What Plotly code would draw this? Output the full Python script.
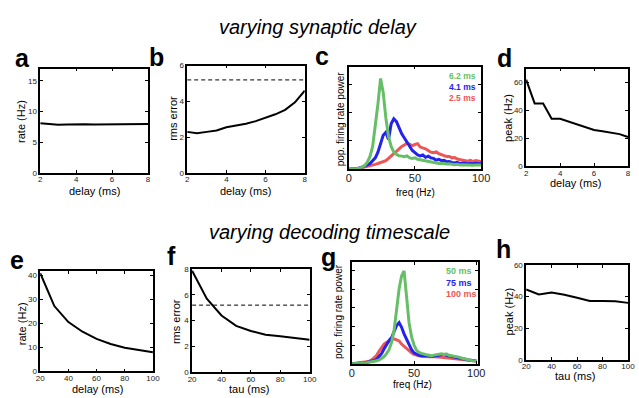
import plotly.graph_objects as go

W, H = 639, 398
FONT = "Liberation Sans, Arial, Helvetica, sans-serif"

# ---------------- data ----------------
delay = [2, 2.5, 3, 3.5, 4, 4.5, 5, 5.5, 6, 6.5, 7, 7.5, 8]
rate_a = [8.1, 7.95, 7.85, 7.9, 7.95, 7.95, 7.9, 7.9, 7.95, 7.95, 7.95, 8.0, 8.0]
rms_b = [2.3, 2.22, 2.3, 2.38, 2.56, 2.65, 2.75, 2.9, 3.07, 3.28, 3.53, 3.95, 4.6]
peak_d = [62, 45, 45, 34, 34, 32, 30, 28, 26, 25, 24, 23, 21]
rms_chance = 5.2

tau = [20, 30, 40, 50, 60, 70, 80, 90, 100]
rate_e = [41, 27.3, 20.6, 16.6, 13.6, 11.5, 9.9, 8.8, 8.0]
rms_f = [7.85, 5.7, 4.4, 3.6, 3.2, 2.92, 2.8, 2.65, 2.52]
peak_h = [44.5, 41.3, 42.5, 41.2, 39.2, 37.2, 37.2, 37.0, 36.0]

freq = list(range(0, 101, 2))
c_labels = ["6.2 ms", "4.1 ms", "2.5 ms"]
c_green = [0.0, 0.0, 0.01, 0.02, 0.03, 0.07, 0.13, 0.25, 0.45, 0.8, 1.5, 2.3, 3.2,
           2.7, 1.8, 1.15, 0.8, 0.6, 0.52, 0.47, 0.46, 0.44, 0.47, 0.4, 0.38, 0.4,
           0.35, 0.33, 0.3, 0.29, 0.26, 0.25, 0.23, 0.22, 0.2, 0.21, 0.19, 0.18, 0.19,
           0.17, 0.16, 0.17, 0.15, 0.16, 0.15, 0.14, 0.15, 0.14, 0.15, 0.14, 0.15]
c_blue = [0.0, 0.0, 0.01, 0.02, 0.04, 0.07, 0.1, 0.15, 0.2, 0.3, 0.4, 0.6, 0.9,
          1.2, 1.3, 1.05, 1.6, 1.78, 1.68, 1.45, 1.25, 1.1, 0.95, 0.82, 0.66, 0.58,
          0.5, 0.47, 0.5, 0.42, 0.46, 0.4, 0.38, 0.32, 0.35, 0.3, 0.31, 0.26, 0.27,
          0.24, 0.22, 0.24, 0.2, 0.22, 0.2, 0.19, 0.2, 0.19, 0.21, 0.19, 0.2]
c_red = [0.0, 0.0, 0.01, 0.02, 0.03, 0.05, 0.07, 0.1, 0.12, 0.14, 0.17, 0.2, 0.23,
         0.26, 0.3, 0.38, 0.45, 0.55, 0.63, 0.72, 0.8, 0.85, 0.92, 0.88, 0.83, 0.87,
         0.9, 0.78, 0.76, 0.72, 0.66, 0.6, 0.58, 0.61, 0.55, 0.5, 0.48, 0.45, 0.45,
         0.4, 0.41, 0.36, 0.33, 0.32, 0.3, 0.28, 0.31, 0.27, 0.3, 0.28, 0.26]

g_labels = ["50 ms", "75 ms", "100 ms"]
g_green = [0.0, 0.0, 0.01, 0.02, 0.03, 0.04, 0.05, 0.07, 0.09, 0.12, 0.16, 0.2, 0.28,
           0.38, 0.55, 0.75, 1.15, 1.8, 2.9, 4.0, 4.7, 4.98, 3.6, 2.2, 1.45, 1.0,
           0.72, 0.6, 0.55, 0.5, 0.48, 0.45, 0.42, 0.46, 0.47, 0.5, 0.53, 0.48, 0.52,
           0.45, 0.43, 0.4, 0.37, 0.35, 0.3, 0.26, 0.22, 0.2, 0.17, 0.16, 0.15]
g_blue = [0.0, 0.0, 0.01, 0.02, 0.03, 0.04, 0.06, 0.09, 0.12, 0.17, 0.24, 0.38, 0.55,
          0.8, 1.05, 1.25, 1.4, 1.7, 2.05, 2.2, 1.95, 1.6, 1.3, 1.0, 0.75, 0.58,
          0.5, 0.45, 0.42, 0.43, 0.4, 0.42, 0.39, 0.42, 0.43, 0.45, 0.47, 0.5, 0.45,
          0.42, 0.38, 0.34, 0.3, 0.28, 0.26, 0.24, 0.22, 0.2, 0.18, 0.16, 0.15]
g_red = [0.0, 0.01, 0.02, 0.03, 0.05, 0.07, 0.1, 0.14, 0.2, 0.32, 0.45, 0.68, 0.88,
         1.05, 1.15, 1.22, 1.3, 1.33, 1.28, 1.22, 1.05, 0.93, 0.8, 0.68, 0.58, 0.5,
         0.45, 0.42, 0.4, 0.38, 0.38, 0.37, 0.38, 0.36, 0.35, 0.35, 0.34, 0.33, 0.32,
         0.3, 0.3, 0.28, 0.27, 0.25, 0.24, 0.22, 0.2, 0.18, 0.17, 0.16, 0.15]

GREEN = "rgb(102,190,102)"
BLUE = "rgb(35,35,240)"
RED = "rgb(238,85,85)"

# ---------------- layout helpers ----------------
def dom(x0, x1, y0, y1):
    return [x0 / W, x1 / W], [1 - y1 / H, 1 - y0 / H]

panels = {
    1: dict(box=(37, 147, 66, 173), xr=[2, 8], yr=[0, 17], xt=[2, 4, 6, 8], yt=[0, 5, 10, 15]),
    2: dict(box=(187, 307, 63, 173), xr=[2, 8], yr=[0, 6], xt=[2, 4, 6, 8], yt=[0, 2, 4, 6]),
    3: dict(box=(352, 487, 64, 169), xr=[0, 100], yr=[0, 3.62], xt=[0, 50, 100], yt=[1, 2, 3], big=True),
    4: dict(box=(533, 637, 66, 166), xr=[2, 8], yr=[0, 70], xt=[2, 4, 6, 8], yt=[0, 20, 40, 60]),
    5: dict(box=(37, 152, 273, 376), xr=[20, 100], yr=[0, 42], xt=[20, 40, 60, 80, 100], yt=[0, 10, 20, 30, 40]),
    6: dict(box=(192, 312, 271, 377), xr=[20, 100], yr=[0, 8], xt=[20, 40, 60, 80, 100], yt=[0, 2, 4, 6, 8]),
    7: dict(box=(355, 484, 264, 368), xr=[0, 101.5], yr=[0, 5.45], xt=[0, 50, 100], yt=[1, 2, 3, 4, 5], big=True),
    8: dict(box=(533, 637, 267, 364), xr=[20, 100], yr=[0, 60], xt=[20, 40, 60, 80, 100], yt=[0, 20, 40, 60]),
}

fig = go.Figure()

def ax_name(i, k):
    return f"{k}axis" if i == 1 else f"{k}axis{i}"

def ref(i, k):
    return k if i == 1 else f"{k}{i}"

layout_axes = {}
for i, p in panels.items():
    xd, yd = dom(*p["box"])
    big = p.get("big", False)
    common = dict(showline=True, linecolor="black", linewidth=1.5, mirror="ticks",
                  ticks="inside", ticklen=3, tickwidth=1, tickcolor="black",
                  showgrid=False, zeroline=False, fixedrange=True)
    layout_axes[ax_name(i, "x")] = dict(
        domain=xd, range=p["xr"], anchor=ref(i, "y"), tickvals=p["xt"],
        ticklabelstandoff=-2,
        tickfont=dict(size=11 if big else 8, color="#222", family=FONT), **common)
    layout_axes[ax_name(i, "y")] = dict(
        domain=yd, range=p["yr"], anchor=ref(i, "x"), tickvals=p["yt"],
        showticklabels=not big,
        tickfont=dict(size=8, color="#222", family=FONT), **common)

def line(i, x, y, color="black", width=2, dash=None):
    fig.add_trace(go.Scatter(x=x, y=y, mode="lines", xaxis=ref(i, "x"), yaxis=ref(i, "y"),
                             line=dict(color=color, width=width, dash=dash), showlegend=False,
                             hoverinfo="skip"))

line(1, delay, rate_a)
line(2, [delay[0], delay[-1]], [rms_chance, rms_chance], width=1, dash="4px,3px")
line(2, delay, rms_b)
line(3, freq, c_red, RED, 3)
line(3, freq, c_blue, BLUE, 3)
line(3, freq, c_green, GREEN, 3)
line(4, delay, peak_d)
line(5, tau, rate_e)
line(6, [tau[0], tau[-1]], [rms_chance, rms_chance], width=1, dash="4px,3px")
line(6, tau, rms_f)
line(7, freq, g_red, RED, 3)
line(7, freq, g_blue, BLUE, 3)
line(7, freq, g_green, GREEN, 3)
line(8, tau, peak_h)

ann = []

def text(x, y, s, size=11, color="black", bold=False, italic=False, angle=0, xanchor="center", yanchor="middle"):
    if bold:
        s = f"<b>{s}</b>"
    if italic:
        s = f"<i>{s}</i>"
    ann.append(dict(x=x / W, y=1 - y / H, xref="paper", yref="paper", text=s, showarrow=False,
                    xanchor=xanchor, yanchor=yanchor, textangle=angle, align="left",
                    borderpad=0,
                    font=dict(family=FONT, size=size, color=color)))

# titles
text(321, 24, "varying synaptic delay", size=20, italic=True)
text(332, 233, "varying decoding timescale", size=20, italic=True)

# panel letters
for lt, (x, y) in {"a": (19, 55), "b": (156, 54), "c": (325, 53), "d": (511, 55),
                   "e": (13, 262), "f": (171, 258), "g": (331, 259), "h": (510, 251)}.items():
    text(x, y, lt, size=25, bold=True)

# axis titles
text(18, 120, "rate (Hz)", angle=-90)
text(92, 191, "delay (ms)")
text(173, 117, "rms error", angle=-90)
text(247, 191, "delay (ms)")
text(343, 118, "pop. firing rate power", size=10, angle=-90)
text(420, 193, "freq (Hz)", size=10)
text(515, 117, "peak (Hz)", angle=-90)
text(583, 183, "delay (ms)")

text(18, 327, "rate (Hz)", angle=-90)
text(95, 393.5, "delay (ms)")
text(175, 325, "rms error", angle=-90)
text(250, 394, "tau (ms)")
text(342, 315, "pop. firing rate power", size=10, angle=-90)
text(417, 389, "freq (Hz)", size=10)
text(515, 315, "peak (Hz)", angle=-90)
text(583, 381, "tau (ms)")

# legends inside c and g (one text block each, coloured lines)
def legend_block(labels, colors):
    return "<br>".join(f"<span style='color:{c}'><b>{l}</b></span>" for l, c in zip(labels, colors))

text(453, 85, legend_block(c_labels, [GREEN, BLUE, RED]), size=8.5, xanchor="left")
text(450, 285, legend_block(g_labels, [GREEN, BLUE, RED]), size=9, xanchor="left")

fig.update_layout(width=W, height=H, margin=dict(l=0, r=0, t=0, b=0),
                  paper_bgcolor="white", plot_bgcolor="white",
                  font=dict(family=FONT), annotations=ann, **layout_axes)

fig.write_html("out.html", include_plotlyjs=True, config={"displayModeBar": False})
